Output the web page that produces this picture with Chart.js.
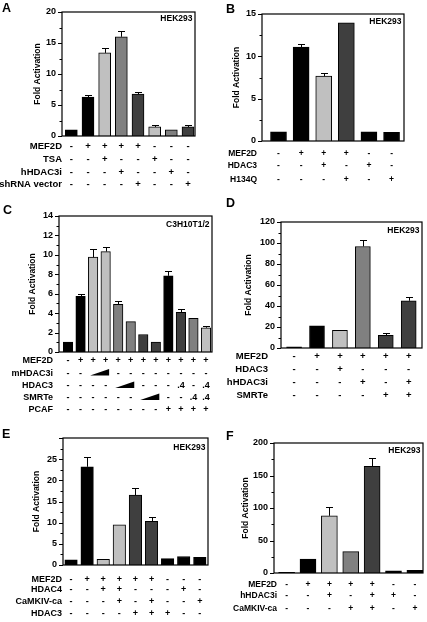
<!DOCTYPE html>
<html>
<head>
<meta charset="utf-8">
<script src="https://cdn.jsdelivr.net/npm/chart.js@4.4.0/dist/chart.umd.min.js"></script>
<style>
    html, body { margin: 0; padding: 0; background: #fff; }
    #fig { position: relative; width: 427px; height: 622px; overflow: hidden; }
    #fig canvas { position: absolute; left: 0; top: 0; }
</style>
</head>
<body>
<div id="fig"></div>
<script>
// Données des panneaux
const aValues = [1, 6.27, 13.4, 16.0, 6.76, 1.46, 1.0, 1.46];
const aErrors = [0, 0.33, 0.8, 1.0, 0.4, 0.38, 0, 0.38];
const aRowLabels = ['MEF2D', 'TSA', 'hHDAC3i', 'shRNA vector'];
const aRowSigns = [
    ['-', '+', '+', '+', '+', '-', '-', '-'],
    ['-', '-', '+', '-', '-', '+', '-', '-'],
    ['-', '-', '-', '+', '-', '-', '+', '-'],
    ['-', '-', '-', '-', '+', '-', '-', '+']
];
const aTicks = [0, 5, 10, 15, 20];

const bValues = [1.07, 11.1, 7.66, 13.97, 1.07, 1.03];
const bErrors = [0, 0.4, 0.39, 0, 0, 0];
const bRowLabels = ['MEF2D', 'HDAC3', 'H134Q'];
const bRowSigns = [
    ['-', '+', '+', '+', '-', '-'],
    ['-', '-', '+', '-', '+', '-'],
    ['-', '-', '-', '+', '-', '+']
];
const bTicks = [0, 5, 10, 15];

const cValues = [1.03, 5.74, 9.76, 10.34, 4.9, 3.13, 1.8, 1.03, 7.84, 4.09, 3.47, 2.5];
const cErrors = [0, 0.2, 0.8, 0.42, 0.36, 0, 0, 0, 0.5, 0.3, 0, 0.2];
const cRowLabels = ['MEF2D', 'mHDAC3i', 'HDAC3', 'SMRTe', 'PCAF'];
// '/' = rampe croissante sur cette colonne et la suivante
const cRowSigns = [
    ['-', '+', '+', '+', '+', '+', '+', '+', '+', '+', '+', '+'],
    ['-', '-', '/', '', '-', '-', '-', '-', '-', '-', '-', '-'],
    ['-', '-', '-', '-', '/', '', '-', '-', '-', '.4', '-', '.4'],
    ['-', '-', '-', '-', '-', '-', '/', '', '-', '-', '.4', '.4'],
    ['-', '-', '-', '-', '-', '-', '-', '-', '+', '+', '+', '+']
];
const cTicks = [0, 2, 4, 6, 8, 10, 12, 14];

const dValues = [1.2, 21, 16.9, 96.7, 12.1, 45];
const dErrors = [0, 0, 0, 6.5, 2.0, 4.0];
const dRowLabels = ['MEF2D', 'HDAC3', 'hHDAC3i', 'SMRTe'];
const dRowSigns = [
    ['-', '+', '+', '+', '+', '+'],
    ['-', '-', '+', '-', '-', '-'],
    ['-', '-', '-', '+', '-', '+'],
    ['-', '-', '-', '-', '+', '+']
];
const dTicks = [0, 20, 40, 60, 80, 100, 120];

const eValues = [1.2, 23.2, 1.35, 9.5, 16.5, 10.3, 1.5, 2.0, 1.8];
const eErrors = [0, 2.4, 0, 0, 1.6, 1.0, 0, 0, 0];
const eRowLabels = ['MEF2D', 'HDAC4', 'CaMKIV-ca', 'HDAC3'];
const eRowSigns = [
    ['-', '+', '+', '+', '+', '+', '-', '-', '-'],
    ['-', '-', '+', '+', '-', '-', '-', '+', '-'],
    ['-', '-', '-', '+', '-', '+', '-', '-', '+'],
    ['-', '-', '-', '-', '+', '+', '+', '-', '-']
];
const eTicks = [0, 5, 10, 15, 20, 25];

const fValues = [1, 21.5, 88, 33, 164, 3.5, 4];
const fErrors = [0, 0, 13.5, 0, 13, 0, 0];
const fRowLabels = ['MEF2D', 'hHDAC3i', 'CaMKIV-ca'];
const fRowSigns = [
    ['-', '+', '+', '+', '+', '-', '-'],
    ['-', '-', '+', '-', '+', '+', '-'],
    ['-', '-', '-', '+', '+', '-', '+']
];
const fTicks = [0, 50, 100, 150, 200];

// Teintes des barres
const K = '#000000', L = '#c0c0c0', M = '#808080', D = '#3f3f3f';

const FONT = '"Liberation Sans", Arial, Helvetica, sans-serif';
const AXIS_W = 40;

/**
 * Dessine le cadre, les graduations, les barres d'erreur et le tableau +/- d'un panneau
 */
const panelPlugin = {
    id: 'panel',
    afterDraw(chart) {
        const p = chart.options.plugins.panel;
        const ctx = chart.ctx;
        const area = chart.chartArea;
        const xs = chart.scales.x;
        const ys = chart.scales.y;
        ctx.save();
        ctx.strokeStyle = '#000';
        ctx.fillStyle = '#000';

        // barres d'erreur
        ctx.lineWidth = 1;
        p.errors.forEach((e, i) => {
            if (!e) return;
            const px = Math.round(xs.getPixelForValue(i)) + 0.5;
            const y0 = ys.getPixelForValue(p.values[i]);
            const y1 = Math.round(ys.getPixelForValue(p.values[i] + e)) + 0.5;
            ctx.beginPath();
            ctx.moveTo(px, y0);
            ctx.lineTo(px, y1);
            ctx.moveTo(px - 3.5, y1);
            ctx.lineTo(px + 3.5, y1);
            ctx.stroke();
        });

        // cadre
        ctx.lineWidth = 1.2;
        ctx.strokeRect(area.left, area.top, area.right - area.left, area.bottom - area.top);

        // graduations majeures et mineures
        ctx.lineWidth = 1;
        const step = p.ticks[1] - p.ticks[0];
        const top = ys.max;
        for (let v = 0; v <= top + 1e-9; v += step / 2) {
            const py = Math.round(ys.getPixelForValue(v)) + 0.5;
            const major = Math.abs(v / step - Math.round(v / step)) < 1e-6;
            ctx.beginPath();
            ctx.moveTo(area.left, py);
            ctx.lineTo(area.left - (major ? 4 : 2.5), py);
            ctx.stroke();
        }

        // titre de l'axe
        ctx.save();
        ctx.font = 'bold 8.5px ' + FONT;
        ctx.textAlign = 'center';
        ctx.textBaseline = 'middle';
        ctx.translate(p.titleX, (area.top + area.bottom) / 2);
        ctx.rotate(-Math.PI / 2);
        ctx.fillText('Fold Activation', 0, 0);
        ctx.restore();

        // lettre du panneau
        ctx.font = 'bold 12.5px ' + FONT;
        ctx.textAlign = 'left';
        ctx.textBaseline = 'alphabetic';
        ctx.fillText(p.letter, p.letterX, p.letterY);

        // lignée cellulaire
        ctx.font = 'bold 8.5px ' + FONT;
        ctx.textAlign = 'right';
        ctx.textBaseline = 'middle';
        ctx.fillText(p.cell, area.right - 2.5, area.top + p.cellDy);

        // tableau des conditions
        ctx.font = 'bold ' + p.tableFont + 'px ' + FONT;
        p.rowLabels.forEach((label, r) => {
            const ry = p.rowY[r];
            ctx.textAlign = 'right';
            ctx.fillText(label, p.labelX, ry);
            ctx.textAlign = 'center';
            p.rowSigns[r].forEach((s, i) => {
                const cx = xs.getPixelForValue(i);
                if (s === '/') {
                    const x0 = cx - 3;
                    const x1 = xs.getPixelForValue(i + 1) + 3.5;
                    ctx.beginPath();
                    ctx.moveTo(x0, ry + 2);
                    ctx.lineTo(x1, ry + 2);
                    ctx.lineTo(x1, ry - 4.5);
                    ctx.closePath();
                    ctx.fill();
                } else if (s) {
                    ctx.fillText(s, cx, ry);
                }
            });
        });
        ctx.restore();
    }
};

/**
 * Crée un panneau (un canvas pleine page par graphique)
 */
function makePanel(cfg) {
    const canvas = document.createElement('canvas');
    canvas.width = 427;
    canvas.height = 622;
    canvas.style.width = '427px';
    canvas.style.height = '622px';
    document.getElementById('fig').appendChild(canvas);

    const box = cfg.box;
    return new Chart(canvas, {
        type: 'bar',
        data: {
            datasets: [{
                data: cfg.values.map((v, i) => ({ x: i, y: v })),
                backgroundColor: cfg.colors,
                borderColor: '#000',
                borderWidth: 1,
                barThickness: cfg.barW
            }]
        },
        options: {
            responsive: false,
            animation: false,
            events: [],
            layout: {
                padding: {
                    left: box.l - AXIS_W,
                    top: box.t,
                    right: 427 - box.r,
                    bottom: 622 - box.b
                }
            },
            plugins: {
                legend: { display: false },
                tooltip: { enabled: false },
                panel: {
                    values: cfg.values,
                    errors: cfg.errors,
                    ticks: cfg.ticks,
                    rowLabels: cfg.rowLabels,
                    rowSigns: cfg.rowSigns,
                    rowY: cfg.rowY,
                    labelX: cfg.labelX,
                    tableFont: cfg.tableFont,
                    titleX: cfg.titleX,
                    letter: cfg.letter,
                    letterX: cfg.letterX,
                    letterY: cfg.letterY,
                    cell: cfg.cell,
                    cellDy: cfg.cellDy
                }
            },
            scales: {
                x: {
                    type: 'linear',
                    offset: false,
                    min: cfg.xMin,
                    max: cfg.xMax,
                    display: false
                },
                y: {
                    type: 'linear',
                    min: 0,
                    max: cfg.yMax,
                    afterFit: function(scale) { scale.width = AXIS_W; },
                    afterBuildTicks: function(scale) {
                        scale.ticks = cfg.ticks.map(v => ({ value: v }));
                    },
                    grid: { display: false, drawTicks: false },
                    border: { display: false },
                    ticks: {
                        padding: 6,
                        color: '#000',
                        font: { family: FONT, size: 9, weight: 'bold' }
                    }
                }
            }
        },
        plugins: [panelPlugin]
    });
}

document.addEventListener('DOMContentLoaded', function() {
    if (typeof Chart === 'undefined') {
        console.error("Chart.js n'est pas chargé.");
        return;
    }

    makePanel({
        box: { l: 62, t: 12, r: 195, b: 136 }, yMax: 20, ticks: aTicks,
        xMin: -0.56, xMax: 7.42, barW: 12,
        values: aValues, errors: aErrors, colors: [K, K, L, M, D, L, M, D],
        rowLabels: aRowLabels, rowSigns: aRowSigns, rowY: [146, 159, 172, 184],
        labelX: 62, tableFont: 9.5, titleX: 38,
        letter: 'A', letterX: 2, letterY: 12, cell: 'HEK293', cellDy: 7
    });

    makePanel({
        box: { l: 262, t: 14, r: 404, b: 141 }, yMax: 15, ticks: bTicks,
        xMin: -0.73, xMax: 5.55, barW: 16,
        values: bValues, errors: bErrors, colors: [K, K, L, D, K, K],
        rowLabels: bRowLabels, rowSigns: bRowSigns, rowY: [154, 166, 180],
        labelX: 257, tableFont: 8.5, titleX: 237,
        letter: 'B', letterX: 226, letterY: 13, cell: 'HEK293', cellDy: 7.5
    });

    makePanel({
        box: { l: 59, t: 216, r: 212, b: 352 }, yMax: 14, ticks: cTicks,
        xMin: -0.72, xMax: 11.48, barW: 9.5,
        values: cValues, errors: cErrors, colors: [K, K, L, L, M, M, D, D, K, D, M, L],
        rowLabels: cRowLabels, rowSigns: cRowSigns, rowY: [361, 373.5, 386, 398, 410],
        labelX: 53, tableFont: 9, titleX: 33,
        letter: 'C', letterX: 3, letterY: 214, cell: 'C3H10T1/2', cellDy: 9
    });

    makePanel({
        box: { l: 281, t: 222, r: 422, b: 348 }, yMax: 120, ticks: dTicks,
        xMin: -0.57, xMax: 5.58, barW: 15,
        values: dValues, errors: dErrors, colors: [K, K, L, M, D, D],
        rowLabels: dRowLabels, rowSigns: dRowSigns, rowY: [356, 369, 382, 395],
        labelX: 268, tableFont: 9.5, titleX: 249,
        letter: 'D', letterX: 226, letterY: 207, cell: 'HEK293', cellDy: 8.5
    });

    makePanel({
        box: { l: 63, t: 438, r: 208, b: 565 }, yMax: 30, ticks: eTicks,
        xMin: -0.5, xMax: 8.51, barW: 12.5,
        values: eValues, errors: eErrors, colors: [K, K, L, L, D, D, K, K, K],
        rowLabels: eRowLabels, rowSigns: eRowSigns, rowY: [580, 590, 602, 614],
        labelX: 62, tableFont: 9, titleX: 37,
        letter: 'E', letterX: 2, letterY: 438, cell: 'HEK293', cellDy: 10
    });

    makePanel({
        box: { l: 274, t: 443, r: 423, b: 573 }, yMax: 200, ticks: fTicks,
        xMin: -0.59, xMax: 6.38, barW: 16,
        values: fValues, errors: fErrors, colors: [K, K, L, M, D, K, K],
        rowLabels: fRowLabels, rowSigns: fRowSigns, rowY: [585, 596, 609],
        labelX: 277, tableFont: 8.5, titleX: 246,
        letter: 'F', letterX: 226, letterY: 440, cell: 'HEK293', cellDy: 8
    });
});
</script>
</body>
</html>
